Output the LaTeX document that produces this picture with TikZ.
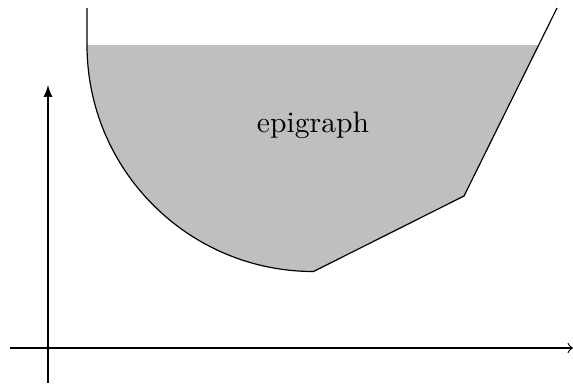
\documentclass[tikz,border=0pt]{standalone}
\usepackage{tikz}

\begin{document}
\begin{tikzpicture}[>=to,x=0.3375pt,y=0.3375pt]
  \useasboundingbox (0,0) rectangle (573,383);

  % Points of the function graph
  \coordinate (T1) at (87,375);
  \coordinate (A) at (87,338);
  \coordinate (B) at (313.5,111.5);
  \coordinate (C) at (464,187);
  \coordinate (T2) at (557,375);
  \coordinate (E) at (538.7,338);

  % Epigraph region
  \fill[gray!50] (A) arc[start angle=180,end angle=270,radius=226.5] -- (C) -- (E) -- cycle;
  \node (epi) at (313,258) {epigraph};

  % Axes
  \coordinate (xl) at (10,35);
  \coordinate (xr) at (573,35);
  \coordinate (yb) at (48,0);
  \coordinate (yt) at (48,298);
  \draw[->] (xl) -- (xr);
  \draw[-latex] (yb) -- (yt);

  % Function graph
  \draw (T1) -- (A) arc[start angle=180,end angle=270,radius=226.5] -- (C) -- (T2);
\end{tikzpicture}
\end{document}
